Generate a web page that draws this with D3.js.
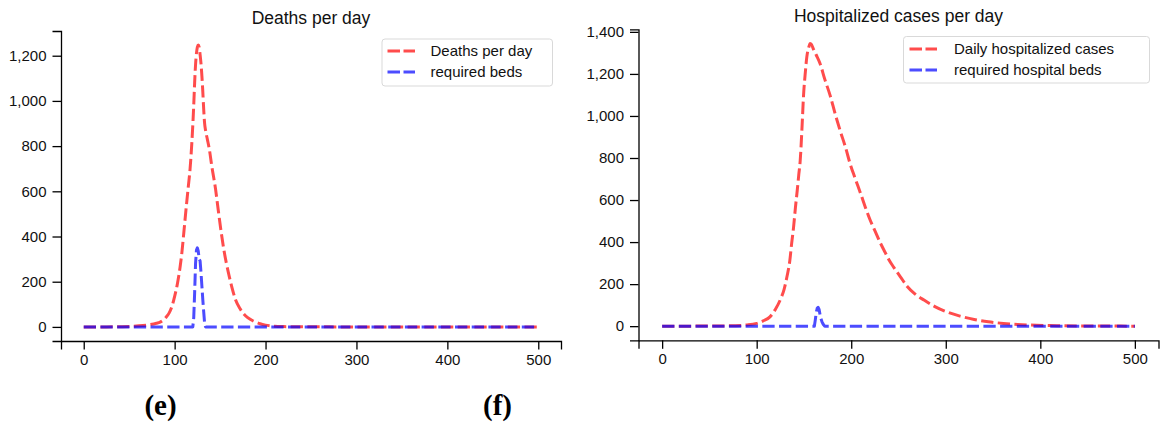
<!DOCTYPE html>
<html>
<head>
<meta charset="utf-8">
<script src="https://cdn.jsdelivr.net/npm/d3@7"></script>
<style>
  html, body { margin: 0; padding: 0; background: #ffffff; }
  svg { display: block; }
</style>
</head>
<body>
<svg id="chart" width="1161" height="423"></svg>
<script>
// ---------------- DATA ----------------
const xTickValues = [0, 100, 200, 300, 400, 500];
const yTickValuesE = [0, 200, 400, 600, 800, 1000, 1200];
const yTickValuesF = [0, 200, 400, 600, 800, 1000, 1200, 1400];

// Panel (e): deaths per day
const deathDays = [0, 20, 40, 55, 65, 73, 80, 84, 88, 91, 94, 97, 100, 103, 106, 108, 110, 113, 115, 117, 119, 121, 122, 123, 124, 125, 126, 127, 128, 129, 130, 131, 132, 133, 134, 136, 138, 141, 145, 148, 151, 154, 157, 160, 163, 167, 172, 176, 180, 187, 194, 200, 210, 220, 240, 270, 300, 400, 500];
const deathValues = [0, 0, 1, 3, 6, 10, 16, 21, 32, 45, 62, 90, 135, 190, 265, 330, 413, 540, 620, 700, 820, 980, 1080, 1160, 1210, 1238, 1247, 1238, 1205, 1165, 1110, 1040, 960, 900, 870, 830, 790, 708, 610, 516, 425, 345, 280, 225, 175, 120, 80, 58, 42, 25, 14, 8, 3, 1.5, 0.5, 0.2, 0, 0, 0];
const bedDaysE = [0, 120, 121, 122, 123, 124, 125, 126, 127, 128, 129, 130, 131, 132, 133, 134, 500];
const bedValuesE = [0, 0, 40, 150, 280, 340, 350, 335, 300, 292, 240, 180, 120, 65, 15, 0, 0];

// Panel (f): hospitalized cases per day
const hospDays = [0, 40, 70, 90, 100, 107, 114, 120, 125, 129, 132, 135, 137, 139, 141, 143, 144.5, 146, 148, 149.5, 151.5, 153, 155, 156.5, 158, 160, 163, 167, 172, 178, 183, 188, 194, 199, 204, 210, 215, 220, 225, 231, 236, 240, 245, 252, 259, 267, 277, 289, 301, 315, 330, 345, 361, 376, 390, 410, 440, 470, 500];
const hospValues = [0, 0.3, 1.5, 6, 13, 25, 44, 82, 126, 175, 235, 310, 394, 470, 565, 650, 720, 785, 950, 1093, 1210, 1280, 1325, 1345, 1340, 1318, 1290, 1250, 1175, 1093, 1010, 934, 850, 770, 705, 630, 565, 505, 455, 394, 350, 315, 280, 235, 190, 155, 124, 92, 68, 48, 32, 21, 13, 8, 5, 3, 1, 0.5, 0];
const bedDaysF = [0, 161, 162, 163, 164, 165, 166, 167, 168, 169, 170, 171, 172, 500];
const bedValuesF = [0, 0, 30, 65, 85, 90, 80, 55, 35, 22, 12, 5, 0, 0];

const panelTitles = ["Deaths per day", "Hospitalized cases per day"];
const legendLabelsE = ["Deaths per day", "required beds"];
const legendLabelsF = ["Daily hospitalized cases", "required hospital beds"];
const panelLetters = ["(e)", "(f)"];

// ---------------- STYLE / LAYOUT ----------------
const RED = "#ff0000", BLUE = "#0000ff";
const LINE_OPACITY = 0.7;
const DASH = "12.3,4.4";
const FONT = "'Liberation Sans', Arial, Helvetica, sans-serif";

const svg = d3.select("#chart");

function zip(xs, ys) { return xs.map((x, i) => ({ x: x, y: ys[i] })); }

function drawPanel(cfg) {
  const g = svg.append("g");
  const allMax = d3.max(cfg.series, s => d3.max(s.values));
  const x = d3.scaleLinear().domain([-25, 525]).range([cfg.left, cfg.right]);
  const y = d3.scaleLinear().domain([-0.05 * allMax, 1.05 * allMax]).range([cfg.bottom, cfg.top]);

  const xAxis = d3.axisBottom(x).tickValues(xTickValues).tickSize(8.5).tickSizeOuter(8.5).tickPadding(5);
  const yAxis = d3.axisLeft(y).tickValues(cfg.yTicks).tickFormat(d3.format(",")).tickSize(8.5).tickSizeOuter(8.5).tickPadding(6);

  const gx = g.append("g").attr("transform", `translate(0,${cfg.bottom})`).call(xAxis);
  const gy = g.append("g").attr("transform", `translate(${cfg.left},0)`).call(yAxis);
  [gx, gy].forEach(a => {
    a.selectAll("path, line").attr("stroke", "#000").attr("stroke-width", 1.3);
    a.selectAll("text").attr("font-family", FONT).attr("font-size", 15).attr("fill", "#111");
  });

  const line = d3.line().x(d => x(d.x)).y(d => y(d.y));
  cfg.series.forEach(s => {
    g.append("path")
      .datum(zip(s.days, s.values))
      .attr("fill", "none")
      .attr("stroke", s.color)
      .attr("stroke-opacity", LINE_OPACITY)
      .attr("stroke-width", 3)
      .attr("stroke-dasharray", DASH)
      .attr("stroke-linejoin", "round")
      .attr("d", line.curve(s.curve));
  });

  g.append("text")
    .attr("x", (cfg.left + cfg.right) / 2)
    .attr("y", cfg.titleY)
    .attr("text-anchor", "middle")
    .attr("font-family", FONT)
    .attr("font-size", 17.5)
    .attr("fill", "#111")
    .text(cfg.title);

  const lg = g.append("g");
  lg.append("rect")
    .attr("x", cfg.legend.x0).attr("y", cfg.legend.y0)
    .attr("width", cfg.legend.x1 - cfg.legend.x0)
    .attr("height", cfg.legend.y1 - cfg.legend.y0)
    .attr("rx", 3)
    .attr("fill", "#fff")
    .attr("fill-opacity", 0.8)
    .attr("stroke", "#d9d9d9")
    .attr("stroke-width", 1);
  cfg.series.forEach((s, i) => {
    const ly = cfg.legend.rowY + i * 21;
    lg.append("line")
      .attr("x1", cfg.legend.lineX).attr("x2", cfg.legend.lineX + 27.5)
      .attr("y1", ly).attr("y2", ly)
      .attr("stroke", s.color).attr("stroke-opacity", LINE_OPACITY)
      .attr("stroke-width", 3).attr("stroke-dasharray", "12.5,3.5");
    lg.append("text")
      .attr("x", cfg.legend.textX).attr("y", ly)
      .attr("dy", "0.35em")
      .attr("font-family", FONT).attr("font-size", 15).attr("fill", "#111")
      .text(cfg.legendLabels[i]);
  });
}

drawPanel({
  left: 61, right: 561, top: 31, bottom: 341,
  yTicks: yTickValuesE,
  title: panelTitles[0], titleY: 24,
  legendLabels: legendLabelsE,
  legend: { x0: 382, x1: 552.5, y0: 39, y1: 86, rowY: 51, lineX: 387.5, textX: 430.5 },
  series: [
    { days: deathDays, values: deathValues, color: RED, curve: d3.curveMonotoneX },
    { days: bedDaysE, values: bedValuesE, color: BLUE, curve: d3.curveLinear }
  ]
});

drawPanel({
  left: 638.5, right: 1158.5, top: 29.3, bottom: 340.3,
  yTicks: yTickValuesF,
  title: panelTitles[1], titleY: 21.5,
  legendLabels: legendLabelsF,
  legend: { x0: 903.5, x1: 1149.5, y0: 36.5, y1: 83, rowY: 49, lineX: 909.5, textX: 954 },
  series: [
    { days: hospDays, values: hospValues, color: RED, curve: d3.curveMonotoneX },
    { days: bedDaysF, values: bedValuesF, color: BLUE, curve: d3.curveLinear }
  ]
});

const letterX = [160.5, 497.5];
panelLetters.forEach((t, i) => {
  svg.append("text")
    .attr("x", letterX[i]).attr("y", 415)
    .attr("text-anchor", "middle")
    .attr("font-family", "'Liberation Serif', 'Times New Roman', serif")
    .attr("font-weight", "bold")
    .attr("font-size", 29)
    .attr("fill", "#000")
    .text(t);
});
</script>
</body>
</html>
